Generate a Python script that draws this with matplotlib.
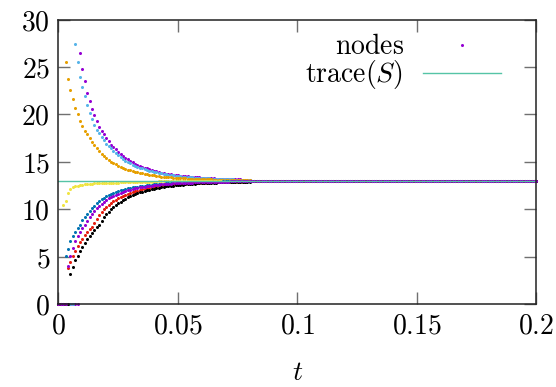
import numpy as np
import matplotlib
matplotlib.use("Agg")
import matplotlib.pyplot as plt

plt.rcParams['mathtext.fontset'] = 'cm'
plt.rcParams['font.family'] = 'serif'
plt.rcParams['font.serif'] = ['DejaVu Serif']

# time grid of the node samples
dt = 0.001
n_steps = 201
trace_S = 13.0

x_ticks = [0, 0.05, 0.1, 0.15, 0.2]
x_tick_labels = ['0', '0.05', '0.1', '0.15', '0.2']
y_ticks = [0, 5, 10, 15, 20, 25, 30]

purple_up = [0]*9 + [26.5, 24.8, 23.5, 22.3, 21.4, 20.6, 19.9, 19.3, 18.7, 18.3, 17.9, 17.5, 17.2, 16.8, 16.6,
    16.33, 16.08, 15.85, 15.64, 15.44, 15.25, 15.08, 14.95, 14.82, 14.70, 14.59, 14.49, 14.39, 14.30, 14.22, 14.14,
    14.07, 14.00, 13.93, 13.87, 13.82, 13.76, 13.72, 13.68, 13.64, 13.61, 13.57, 13.54, 13.51, 13.48, 13.46, 13.43,
    13.41, 13.39, 13.37, 13.35, 13.33, 13.31, 13.30, 13.28, 13.26, 13.25, 13.24, 13.22, 13.21, 13.20, 13.19, 13.18,
    13.17, 13.16, 13.15, 13.15, 13.14, 13.13, 13.12, 13.12, 13.11]
sky = [0]*7 + [27.4, 25.5, 24.0, 22.9, 21.9, 21.0, 20.2, 19.5, 18.9, 18.4, 18.0, 17.6, 17.3, 16.9, 16.7,
    16.42, 16.17, 15.93, 15.71, 15.51, 15.32, 15.14, 14.98, 14.83, 14.71, 14.60, 14.50, 14.40, 14.31, 14.23, 14.15,
    14.07, 14.00, 13.94, 13.88, 13.82, 13.77, 13.72, 13.67, 13.63, 13.60, 13.56, 13.53, 13.50, 13.48, 13.45, 13.43,
    13.40, 13.38, 13.36, 13.34, 13.32, 13.30, 13.29, 13.27, 13.26, 13.25, 13.23, 13.22, 13.21, 13.20, 13.19, 13.18,
    13.17, 13.16, 13.15, 13.14, 13.13, 13.13, 13.12, 13.12, 13.11, 13.10, 13.10]
orange = [0]*3 + [25.5, 23.7, 22.6, 21.6, 20.7, 20.0, 19.3, 18.8, 18.3, 17.9, 17.5, 17.1, 16.8,
    16.46, 16.15, 15.86, 15.61, 15.37, 15.19, 15.03, 14.88, 14.74, 14.61, 14.49, 14.37, 14.27, 14.18, 14.09, 14.02,
    13.95, 13.89, 13.83, 13.78, 13.73, 13.68, 13.64, 13.59, 13.56, 13.52, 13.49, 13.45, 13.43, 13.40, 13.37, 13.35,
    13.33, 13.32, 13.30, 13.28, 13.27, 13.25, 13.24, 13.23, 13.21, 13.20, 13.19, 13.18, 13.17, 13.16, 13.15, 13.14,
    13.14, 13.13, 13.12, 13.11, 13.11, 13.10, 13.10, 13.09, 13.09, 13.08, 13.08, 13.07, 13.07, 13.07, 13.06, 13.06,
    13.06]
yellow = [0]*2 + [10.4, 10.9, 11.7, 12.1, 12.3, 12.4, 12.47, 12.53, 12.58, 12.62, 12.65, 12.68, 12.70, 12.72,
    12.74, 12.75, 12.76, 12.77, 12.78, 12.79, 12.80, 12.80, 12.81, 12.82, 12.83, 12.84, 12.85, 12.85, 12.86, 12.87,
    12.87, 12.88, 12.89, 12.89, 12.90, 12.90, 12.91, 12.91, 12.92, 12.92, 12.93, 12.93, 12.94, 12.94, 12.94, 12.95,
    12.95, 12.95, 12.96, 12.96, 12.96, 12.97, 12.97, 12.97, 12.97, 12.98, 12.98, 12.98, 12.98]
blue = [0]*3 + [5.06, 5.77, 6.61, 7.14, 7.63, 8.05, 8.33, 8.82, 9.20, 9.54, 9.85, 10.13, 10.39, 10.63, 10.84,
    11.03, 11.21, 11.37, 11.49, 11.61, 11.71, 11.81, 11.90, 11.98, 12.06, 12.13, 12.19, 12.25, 12.30, 12.35, 12.39,
    12.43, 12.47, 12.50, 12.53, 12.56, 12.59, 12.62, 12.64, 12.67, 12.69, 12.71, 12.73, 12.74, 12.76, 12.77, 12.78,
    12.79, 12.81, 12.82, 12.83, 12.84, 12.85, 12.85, 12.86, 12.87, 12.88, 12.88, 12.89, 12.89, 12.90, 12.90, 12.91,
    12.91, 12.92, 12.92, 12.93, 12.93, 12.94, 12.94, 12.94, 12.95, 12.95, 12.95, 12.95, 12.96, 12.96, 12.96]
red = [0]*4 + [3.83, 4.47, 5.06, 5.59, 6.08, 6.54, 6.86, 7.24, 7.56, 7.88, 8.16, 8.59, 8.99, 9.35, 9.68, 9.98,
    10.25, 10.46, 10.65, 10.82, 10.99, 11.14, 11.28, 11.41, 11.53, 11.64, 11.74, 11.82, 11.90, 11.97, 12.04, 12.10,
    12.16, 12.21, 12.26, 12.31, 12.36, 12.40, 12.44, 12.47, 12.51, 12.54, 12.57, 12.59, 12.61, 12.63, 12.65, 12.67,
    12.69, 12.71, 12.72, 12.74, 12.75, 12.77, 12.78, 12.79, 12.80, 12.81, 12.82, 12.83, 12.84, 12.85, 12.86, 12.87,
    12.87, 12.88, 12.89, 12.89, 12.90, 12.90, 12.91, 12.91, 12.92, 12.92, 12.92, 12.93, 12.93]
black = [0]*5 + [3.2, 3.94, 4.61, 5.10, 5.56, 6.05, 6.43, 6.82, 7.17, 7.52, 7.84, 8.09, 8.33, 8.75, 9.13, 9.48,
    9.74, 9.99, 10.21, 10.42, 10.62, 10.80, 10.96, 11.11, 11.26, 11.39, 11.49, 11.59, 11.68, 11.77, 11.85, 11.92,
    11.99, 12.06, 12.12, 12.17, 12.23, 12.28, 12.33, 12.37, 12.41, 12.44, 12.47, 12.50, 12.53, 12.56, 12.58, 12.60,
    12.62, 12.65, 12.67, 12.68, 12.70, 12.72, 12.73, 12.75, 12.76, 12.78, 12.79, 12.80, 12.81, 12.82, 12.83, 12.84,
    12.85, 12.86, 12.865, 12.87, 12.88, 12.885, 12.89, 12.90, 12.90, 12.91, 12.91, 12.915]
purple_low = [0]*4 + [4.04, 5.06, 5.91, 6.61, 7.14, 7.63, 8.05, 8.33, 8.75, 9.13, 9.48, 9.80, 10.08, 10.35,
    10.59, 10.80, 11.00, 11.15, 11.29, 11.42, 11.54, 11.65, 11.75, 11.84, 11.93, 12.01, 12.08, 12.14, 12.20, 12.25,
    12.30, 12.34, 12.39, 12.43, 12.46, 12.50, 12.53, 12.56, 12.59, 12.62, 12.64, 12.67, 12.68, 12.70, 12.72, 12.73,
    12.75, 12.76, 12.77, 12.79, 12.80, 12.81, 12.82, 12.83, 12.84, 12.85, 12.86, 12.87, 12.87, 12.88, 12.89, 12.89,
    12.90, 12.91, 12.91, 12.92, 12.92, 12.92, 12.93, 12.93, 12.93, 12.94, 12.94, 12.94, 12.95, 12.95, 12.95]

series = [purple_up, sky, orange, yellow, blue, red, black, purple_low]
colors = ['#9400d3', '#56b4e9', '#e69f00', '#f0e442', '#0072b2', '#e51e10', '#000000', '#9400d3']

t = np.arange(n_steps) * dt

fig = plt.figure(figsize=(5.56, 3.87), dpi=100)
ax = fig.add_axes([0.1052, 0.2145, 0.8597, 0.7346])

FS = 20
for i, (s, c) in enumerate(zip(series, colors)):
    y = np.array(list(s) + [trace_S] * (n_steps - len(s)))
    ax.plot(t, y, linestyle='none', marker='o', markersize=2.2, markeredgewidth=0,
            color=c, label=r'$\mathrm{nodes}$' if i == 0 else None, clip_on=False)

ax.plot([t[0], t[-1]], [trace_S, trace_S], color='#55c4a6', lw=1.0, label=r'$\mathrm{trace}(S)$')

ax.set_xlim(0, 0.2)
ax.set_ylim(0, 30)
ax.set_xticks(x_ticks)
ax.set_xticklabels([f'${s}$' for s in x_tick_labels])
ax.set_yticks(y_ticks)
ax.set_yticklabels([f'${v}$' for v in y_ticks])
ax.tick_params(direction='in', length=8.5, width=1.0, color='#707070', labelsize=FS,
               top=True, right=True, pad=6)
for sp in ax.spines.values():
    sp.set_linewidth(1.1)
    sp.set_color('#222222')
ax.set_xlabel(r'$t$', fontsize=FS, labelpad=14)

leg = ax.legend(loc='upper right', bbox_to_anchor=(0.966, 1.02), frameon=False, fontsize=FS,
                markerfirst=False, handlelength=2.8, handletextpad=0.7, labelspacing=-0.08,
                markerscale=1.0, borderpad=0.2)
for col in leg._legend_handle_box.get_children():
    col.align = 'right'

fig.savefig('out.png', dpi=100)
